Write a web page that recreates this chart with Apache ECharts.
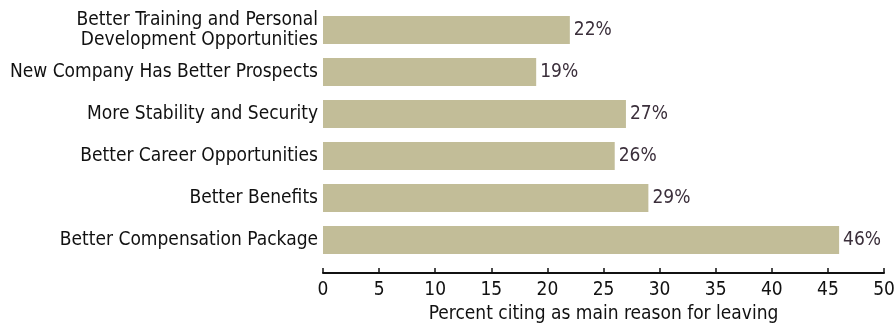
<!DOCTYPE html>
<html>
<head>
<meta charset="utf-8">
<script src="https://cdn.jsdelivr.net/npm/echarts@6/dist/echarts.min.js"></script>
<style>
  html, body { margin: 0; padding: 0; background: #fff; }
  #chart { width: 895px; height: 324px; }
</style>
</head>
<body>
<div id="chart"></div>
<script>
// Reasons for leaving, listed bottom to top as the category axis draws them
const categories = [
  'Better Compensation Package',
  'Better Benefits',
  'Better Career Opportunities',
  'More Stability and Security',
  'New Company Has Better Prospects',
  'Better Training and Personal\nDevelopment Opportunities'
];
const percentValues = [46, 29, 26, 27, 19, 22];
const axisTicks = { min: 0, max: 50, interval: 5 };
const axisTitle = 'Percent citing as main reason for leaving';

const FONT = '"Liberation Sans Narrow", "DejaVu Sans Condensed", "Roboto Condensed", sans-serif';

const chart = echarts.init(document.getElementById('chart'), null, { renderer: 'canvas' });
chart.setOption({
  animation: false,
  backgroundColor: '#ffffff',
  grid: {
    left: 323, right: 11, top: 9, bottom: 63,
    containLabel: false, outerBoundsMode: 'none'
  },
  xAxis: {
    type: 'value',
    min: axisTicks.min,
    max: axisTicks.max,
    interval: axisTicks.interval,
    offset: 12,
    name: axisTitle,
    nameLocation: 'middle',
    nameGap: 32,
    nameTextStyle: { fontFamily: FONT, fontSize: 19, color: '#111' },
    axisLine: { show: true, lineStyle: { color: '#111', width: 2 } },
    axisTick: { show: true, inside: true, length: 5, lineStyle: { color: '#111', width: 1.5 } },
    axisLabel: { fontFamily: FONT, fontSize: 19, color: '#111', margin: 8 },
    splitLine: { show: false }
  },
  yAxis: {
    type: 'category',
    data: categories,
    axisLine: { show: false },
    axisTick: { show: false },
    axisLabel: {
      fontFamily: FONT, fontSize: 19, color: '#111', margin: 5,
      lineHeight: 20, align: 'right'
    }
  },
  series: [{
    type: 'bar',
    data: percentValues,
    barCategoryGap: '33%',
    itemStyle: { color: '#c2bd98' },
    label: {
      show: true,
      position: 'right',
      distance: 4,
      formatter: '{c}%',
      fontFamily: FONT,
      fontSize: 19,
      color: '#3b2f3b'
    }
  }]
});
</script>
</body>
</html>
